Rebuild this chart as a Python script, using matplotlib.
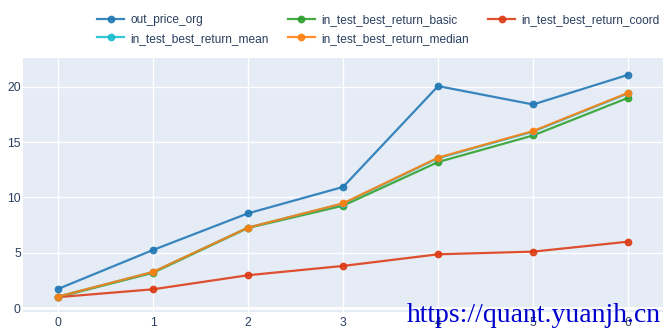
import matplotlib.pyplot as plt

# values
steps = [0, 1, 2, 3, 4, 5, 6]
out_price_org = [1.74, 5.26, 8.57, 10.95, 20.06, 18.4, 21.08]
best_return_basic = [1.0, 3.2, 7.25, 9.26, 13.2, 15.6, 19.0]
best_return_coord = [1.0, 1.71, 2.98, 3.82, 4.87, 5.11, 6.01]
best_return_mean = [1.05, 3.27, 7.28, 9.45, 13.55, 15.95, 19.4]
best_return_median = [1.05, 3.28, 7.28, 9.47, 13.6, 16.0, 19.45]

names = ['out_price_org', 'in_test_best_return_basic', 'in_test_best_return_coord',
         'in_test_best_return_mean', 'in_test_best_return_median']
series = [out_price_org, best_return_basic, best_return_coord,
          best_return_mean, best_return_median]
colors = ['#1f77b4', '#2ca02c', '#dc3912', '#17becf', '#ff7f0e']

plt.rcParams['font.family'] = ['Liberation Sans', 'DejaVu Sans']

fig = plt.figure(figsize=(6.72, 3.35), dpi=100)
ax = fig.add_axes([0.034, 0.069, 0.953, 0.758])
ax.set_facecolor('#e5ecf6')

handles = []
for name, vals, c in zip(names, series, colors):
    h, = ax.plot(steps, vals, color=c, lw=1.6, marker='o', ms=4.6, alpha=0.88,
                 label=name, zorder=3)
    handles.append(h)

ax.set_xlim(-0.37, 6.37)
ax.set_ylim(-0.33, 22.6)
ax.set_xticks(steps)
ax.set_yticks([0, 5, 10, 15, 20])
ax.grid(True, color='white', lw=1)
ax.axhline(0, color='white', lw=2, zorder=1)
ax.set_axisbelow(True)
for s in ax.spines.values():
    s.set_visible(False)
ax.tick_params(length=0, labelsize=8.8, colors='#2a3f5f')
ax.tick_params(axis='x', pad=3.5)
ax.tick_params(axis='y', pad=1.5)

# legend is row-wise in the reference, matplotlib fills columns first
order = [0, 3, 1, 4, 2]
fig.legend([handles[i] for i in order], [names[i] for i in order],
           loc='upper left', bbox_to_anchor=(0.128, 0.99), ncol=3, frameon=False,
           fontsize=8.6, labelcolor='#2a3f5f', handlelength=2.3,
           columnspacing=1.6, handletextpad=0.5, labelspacing=0.55)

fig.text(0.605, 0.039, 'https://quant.yuanjh.cn', color='#0000cc',
         fontsize=20, family='Liberation Serif')

fig.savefig('out.png', dpi=100)
